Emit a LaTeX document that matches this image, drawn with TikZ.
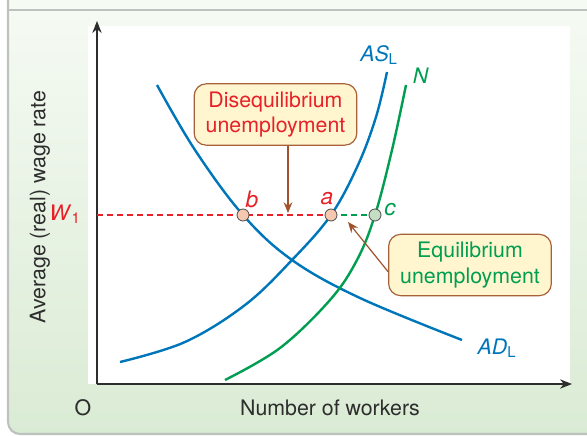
\documentclass[tikz,border=0pt]{standalone}
\usepackage{fontspec}
\setmainfont{TeX Gyre Heros}
\usepackage{xcolor}
\usetikzlibrary{arrows.meta,positioning}
\definecolor{curveblue}{RGB}{0,118,186}
\definecolor{curvegreen}{RGB}{0,158,80}
\definecolor{wred}{RGB}{232,32,40}
\definecolor{boxedge}{RGB}{168,98,58}
\definecolor{boxfill}{RGB}{255,246,208}
\definecolor{arrowbrown}{RGB}{160,82,45}
\definecolor{dotpeach}{RGB}{246,200,176}
\definecolor{dotgreen}{RGB}{196,222,196}
\definecolor{bgtop}{RGB}{245,250,243}
\definecolor{bgbot}{RGB}{218,235,212}
\definecolor{framegrey}{RGB}{190,194,190}
\definecolor{textgrey}{RGB}{45,45,45}

\begin{document}
\begin{tikzpicture}[x=0.75pt,y=-0.75pt,>=Stealth,
    font=\fontsize{16}{19}\selectfont,
    curve/.style={line width=1.8pt},
    callout/.style={draw=boxedge,fill=boxfill,rounded corners=9pt,line width=0.9pt,
      align=center,minimum width=122pt,minimum height=46pt,inner sep=2pt},
    pointer/.style={arrowbrown,line width=0.9pt,-{Stealth[length=8pt,width=6.5pt]}},
    dot/.style={circle,draw=black!70,line width=0.6pt,minimum size=9pt,inner sep=0pt},
    ptlabel/.style={font=\fontsize{17}{19}\selectfont\itshape}]
  \useasboundingbox (0,0) rectangle (587,436);
  % Panel background and frame
  \fill[bgtop] (8,0) rectangle (587,10);
  \shade[top color=bgtop,bottom color=bgbot]
    (8,10) [rounded corners=9pt] -- (8,434) -- (400,434) [sharp corners] -- (587,434) -- (587,10) -- cycle;
  \draw[framegrey,line width=1.6pt,rounded corners=9pt] (8,0) -- (8,434) -- (587,434);
  \draw[framegrey,line width=1.6pt] (8,10) -- (587,10);
  \fill[white] (88,26) rectangle (570,384);
  % Axes
  \coordinate (O) at (97,384);
  \coordinate (ytop) at (97,21);
  \coordinate (xend) at (572,384);
  \draw[textgrey,line width=0.9pt,-{Stealth[length=9pt,width=7pt]}] (O) -- (ytop);
  \draw[textgrey,line width=0.9pt,-{Stealth[length=9pt,width=7pt]}] (O) -- (xend);
  \node[text=textgrey] (origin) at (83,408) {O};
  \node[text=textgrey] (xlabel) at (330,408) {Number of workers};
  \node[text=textgrey,rotate=90] (ylabel) at (40,207) {Average (real) wage rate};
  % Wage line W1
  \coordinate (w1) at (97,215);
  \coordinate (pb) at (243,215);
  \coordinate (pa) at (331,215);
  \coordinate (pc) at (375,215);
  \node[text=wred] (wlbl) at (65,214) {\textit{W}\textsubscript{1}};
  \draw[wred,line width=0.8pt,dash pattern=on 4.5pt off 3pt] (w1) -- (pa);
  \draw[curvegreen,line width=0.8pt,dash pattern=on 4.5pt off 3pt] (pa) -- (pc);
  % Curves
  \draw[curveblue,curve] plot[smooth,tension=0.6] coordinates
    {(157,85) (195,150) (243,215) (292,260) (360,298) (462,340)};
  \draw[curveblue,curve] plot[smooth,tension=0.6] coordinates
    {(120,362) (185,342) (245,305) (292,260) (331,215) (358,165) (376,117) (387,72)};
  \draw[curvegreen,curve] plot[smooth,tension=0.6] coordinates
    {(225,380) (280,348) (330,300) (357,260) (375,215) (392,150) (406,85)};
  \node[text=curveblue] (aslbl) at (379,55) {\textit{AS}\textsubscript{L}};
  \node[text=curvegreen] (nlbl) at (421,76) {\textit{N}};
  \node[text=curveblue] (adlbl) at (497,348) {\textit{AD}\textsubscript{L}};
  % Points on the wage line
  \foreach \name/\fillc in {b/dotpeach,a/dotpeach,c/dotgreen}{
    \node[dot,fill=\fillc] (\name) at (p\name) {};
  }
  \node[ptlabel,text=wred] (blbl) at (252,199) {b};
  \node[ptlabel,text=wred] (albl) at (327,199) {a};
  \node[ptlabel,text=curvegreen] (clbl) at (390,210) {c};
  % Callouts
  \node[callout,text=wred] (diseq) at (275.5,114.5) {Disequilibrium\\unemployment};
  \node[callout,text=curvegreen] (equil) at (470,265) {Equilibrium\\unemployment};
  \coordinate (dtip) at (288,213);
  \coordinate (etip) at (348,222);
  \draw[pointer] (dtip |- diseq.south) -- (dtip);
  \draw[pointer] ([yshift=-5]equil.west) -- (etip);
\end{tikzpicture}
\end{document}
